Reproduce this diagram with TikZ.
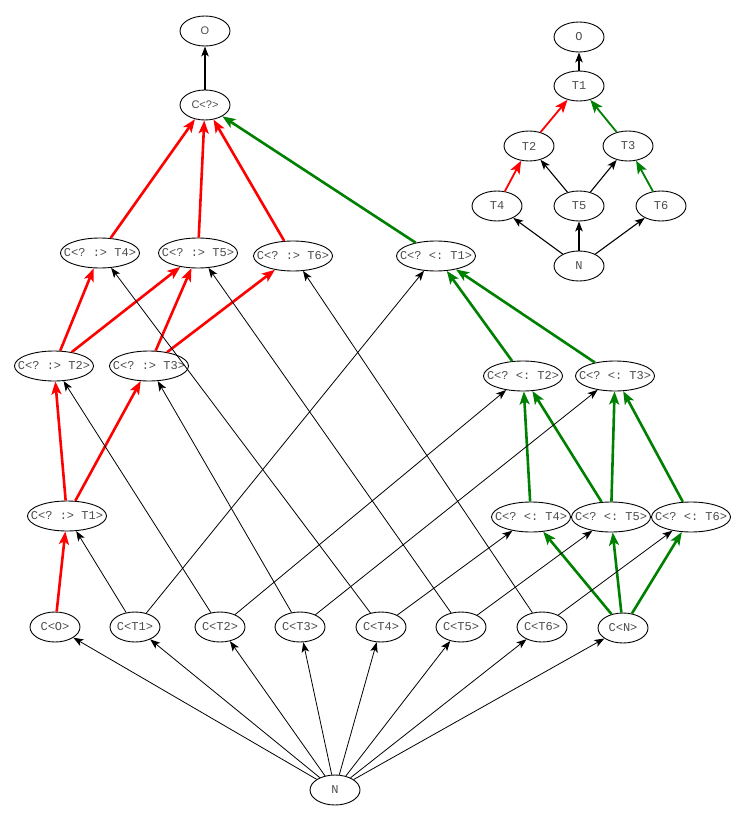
\documentclass[tikz,border=0pt]{standalone}
\usepackage{fontspec}
\setmonofont{Liberation Mono}
\setsansfont{Liberation Sans}
\usetikzlibrary{shapes.geometric,arrows.meta}
\definecolor{dotgreen}{RGB}{0,128,0}
\tikzset{
    cls/.style={ellipse,draw,line width=0.9pt,inner xsep=-10pt,inner ysep=0pt,
        minimum width=50pt,minimum height=30pt,
        font=\ttfamily\fontsize{12}{14}\selectfont,text=black!70},
    widecls/.style={cls,minimum width=79pt},
    sanscls/.style={cls,font=\sffamily\fontsize{11}{13}\selectfont},
    plain/.style={-{Stealth[length=10pt,width=7.5pt,inset=2.5pt]},line width=0.8pt},
    covar/.style={-{Stealth[length=13pt,width=10pt,inset=3pt]},line width=2.6pt,red},
    contra/.style={-{Stealth[length=13pt,width=10pt,inset=3pt]},line width=2.6pt,dotgreen},
    small/.style={line width=1.8pt}
}

\begin{document}
\begin{tikzpicture}[x=1pt,y=-1pt]
    \useasboundingbox (0,0) rectangle (744,821);
    % main lattice
    \node[sanscls] (o) at (205,31) {O};
    \node[sanscls] (top) at (205,105) {C<?>};
    \node[widecls] (p4) at (100,253) {C<? :> T4>};
    \node[widecls] (p5) at (198,253) {C<? :> T5>};
    \node[widecls] (p6) at (293,256) {C<? :> T6>};
    \node[widecls] (m1) at (436,256) {C<? <: T1>};
    \node[widecls] (p2) at (54,366) {C<? :> T2>};
    \node[widecls] (p3) at (149,366) {C<? :> T3>};
    \node[widecls] (m2) at (523,376) {C<? <: T2>};
    \node[widecls] (m3) at (615,376) {C<? <: T3>};
    \node[widecls] (p1) at (67,516) {C<? :> T1>};
    \node[widecls] (m4) at (531,517) {C<? <: T4>};
    \node[widecls] (m5) at (611,517) {C<? <: T5>};
    \node[widecls] (m6) at (691,517) {C<? <: T6>};
    \node[cls] (c0) at (55,627) {C<O>};
    \node[cls] (c1) at (135,627) {C<T1>};
    \node[cls] (c2) at (220,627) {C<T2>};
    \node[cls] (c3) at (300,627) {C<T3>};
    \node[cls] (c4) at (381,627) {C<T4>};
    \node[cls] (c5) at (461,627) {C<T5>};
    \node[cls] (c6) at (542,627) {C<T6>};
    \node[cls] (cn) at (623,628) {C<N>};
    \node[cls] (n) at (335,790) {N};

    \draw[plain,line width=1.1pt] (top) -- (o);
    \draw[covar] (p4) -- (top);
    \draw[covar] (p5) -- (top);
    \draw[covar] (p6) -- (top);
    \draw[contra] (m1) -- (top);
    \draw[covar] (p2) -- (p4);
    \draw[covar] (p2) -- (p5);
    \draw[covar] (p3) -- (p5);
    \draw[covar] (p3) -- (p6);
    \draw[contra] (m2) -- (m1);
    \draw[contra] (m3) -- (m1);
    \draw[covar] (p1) -- (p2);
    \draw[covar] (p1) -- (p3);
    \draw[contra] (m4) -- (m2);
    \draw[contra] (m5) -- (m2);
    \draw[contra] (m5) -- (m3);
    \draw[contra] (m6) -- (m3);
    \draw[covar] (c0) -- (p1);
    \draw[contra] (cn) -- (m4);
    \draw[contra] (cn) -- (m5);
    \draw[contra] (cn) -- (m6);

    \draw[plain] (c1) -- (p1);
    \draw[plain] (c1) -- (m1);
    \draw[plain] (c2) -- (p2);
    \draw[plain] (c2) -- (m2);
    \draw[plain] (c3) -- (p3);
    \draw[plain] (c3) -- (m3);
    \draw[plain] (c4) -- (p4);
    \draw[plain] (c4) -- (m4);
    \draw[plain] (c5) -- (p5);
    \draw[plain] (c5) -- (m5);
    \draw[plain] (c6) -- (p6);
    \draw[plain] (c6) -- (m6);

    \draw[plain] (n) -- (c0);
    \draw[plain] (n) -- (c1);
    \draw[plain] (n) -- (c2);
    \draw[plain] (n) -- (c3);
    \draw[plain] (n) -- (c4);
    \draw[plain] (n) -- (c5);
    \draw[plain] (n) -- (c6);
    \draw[plain] (n) -- (cn);

    % type hierarchy
    \node[cls] (so) at (579,37) {O};
    \node[cls] (t1) at (579,86) {T1};
    \node[cls] (t2) at (529,146) {T2};
    \node[cls] (t3) at (628,146) {T3};
    \node[cls] (t4) at (497,206) {T4};
    \node[cls] (t5) at (579,206) {T5};
    \node[cls] (t6) at (661,206) {T6};
    \node[cls] (sn) at (579,266) {N};

    \draw[plain,line width=1.1pt] (t1) -- (so);
    \draw[covar,small] (t2) -- (t1);
    \draw[contra,small] (t3) -- (t1);
    \draw[covar,small] (t4) -- (t2);
    \draw[plain,line width=1.1pt] (t5) -- (t2);
    \draw[plain,line width=1.1pt] (t5) -- (t3);
    \draw[contra,small] (t6) -- (t3);
    \draw[plain,line width=1.1pt] (sn) -- (t4);
    \draw[plain,line width=1.1pt] (sn) -- (t5);
    \draw[plain,line width=1.1pt] (sn) -- (t6);
\end{tikzpicture}
\end{document}
